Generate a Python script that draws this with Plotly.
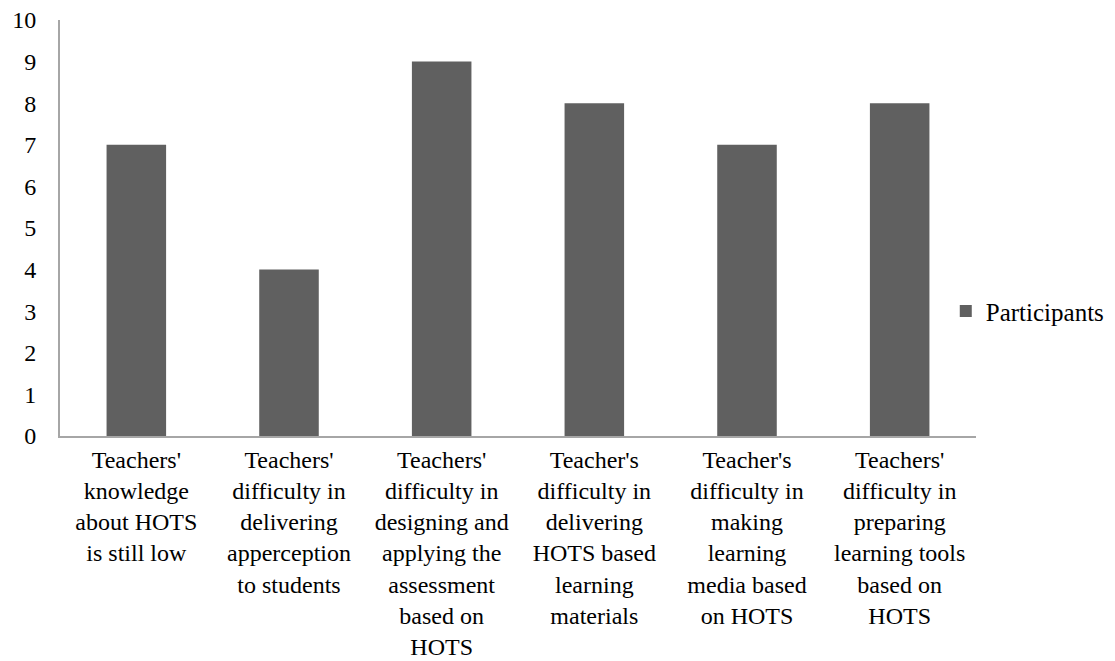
import plotly.graph_objects as go

categories = [
    "Teachers'<br>knowledge<br>about HOTS<br>is still low",
    "Teachers'<br>difficulty in<br>delivering<br>apperception<br>to students",
    "Teachers'<br>difficulty in<br>designing and<br>applying the<br>assessment<br>based on<br>HOTS",
    "Teacher's<br>difficulty in<br>delivering<br>HOTS based<br>learning<br>materials",
    "Teacher's<br>difficulty in<br>making<br>learning<br>media based<br>on HOTS",
    "Teachers'<br>difficulty in<br>preparing<br>learning tools<br>based on<br>HOTS",
]
participants = [7, 4, 9, 8, 7, 8]
y_ticks = list(range(0, 11))

FONT = "'Times New Roman', 'Liberation Serif', serif"

fig = go.Figure()
fig.add_trace(go.Bar(
    x=categories, y=participants, name="Participants",
    marker=dict(color="#606060", line=dict(width=0)),
    showlegend=True,
))

fig.update_layout(
    width=1115, height=661,
    paper_bgcolor="white", plot_bgcolor="white",
    margin=dict(l=60, r=139, t=20, b=225, autoexpand=False),
    bargap=0.61,
    font=dict(family=FONT, color="black", size=24),
    showlegend=True,
    legend=dict(
        x=0.967, y=0.30, xanchor="left", yanchor="middle",
        font=dict(family=FONT, size=25, color="black"),
        bgcolor="rgba(0,0,0,0)",
    ),
    xaxis=dict(
        showline=True, linecolor="#a6a6a6", linewidth=2,
        ticks="", showgrid=False, zeroline=False, automargin=False,
        tickfont=dict(family=FONT, size=24, color="black"),
        ticklabelstandoff=1,
    ),
    yaxis=dict(
        range=[0, 10], tickvals=y_ticks, ticktext=[str(v) for v in y_ticks],
        showline=True, linecolor="#a6a6a6", linewidth=2,
        ticks="", showgrid=False, zeroline=False, automargin=False,
        tickfont=dict(family=FONT, size=24, color="black"),
        ticklabelstandoff=17,
    ),
)

fig.write_html("out.html", config={"displayModeBar": False},
               post_script="document.body.style.margin='0';")
